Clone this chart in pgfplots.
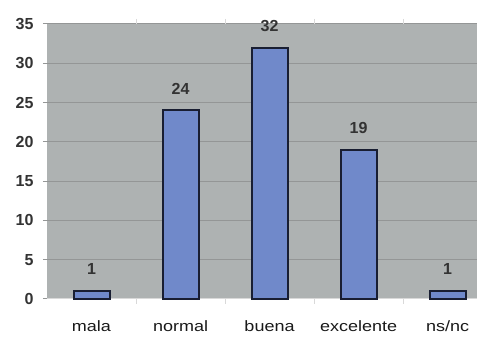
\documentclass[border=0pt]{standalone}
\usepackage{pgfplots}
\pgfplotsset{compat=1.18}
\usepackage{graphicx}
\usepackage{fontspec}
\setmainfont{Liberation Sans}
\newcommand{\hs}[1]{\scalebox{1.2}[1]{#1}}
\definecolor{bgg}{RGB}{174,178,178}
\definecolor{gridg}{RGB}{148,150,150}
\definecolor{barb}{RGB}{112,137,202}
\definecolor{edgeb}{RGB}{25,30,50}
\begin{document}
\begin{tikzpicture}
\begin{axis}[
  at={(47pt,38pt)}, anchor=south west,
  scale only axis, width=430pt, height=275pt,
  xmin=-0.5, xmax=4.331, ymin=0, ymax=35,
  /pgf/number format/assume math mode=true,
  axis background/.style={fill=bgg},
  axis line style={draw=none},
  ytick={0,5,...,35},
  ymajorgrids, major grid style={gridg, line width=1pt},
  ytick style={gridg, line width=1pt},
  tick align=outside, major tick length=4pt,
  yticklabel style={font=\fontsize{16}{19}\selectfont\bfseries, text=black!80, xshift=-6pt},
  xtick={0,1,2,3,4},
  xticklabels={\hs{mala},\hs{normal},\hs{buena},\hs{excelente},\hs{ns/nc}},
  xticklabel style={font=\fontsize{15}{18}\selectfont, text=black!90, yshift=-14pt},
  xtick style={draw=none},
  minor xtick={0.5,1.5,2.5,3.5},
  minor tick length=5pt,
  minor x tick style={draw=white!85!black, line width=0.8pt},
  ybar, bar width=36pt,
  nodes near coords,
  nodes near coords style={font=\fontsize{16}{19}\selectfont\bfseries, text=black!80, anchor=south, yshift=12pt},
  clip=false,
]
\draw[white!85!black, line width=1pt] (axis cs:-0.5,0) -- (axis cs:4.331,0);
\addplot[fill=barb, draw=edgeb, line width=2pt] coordinates {(0,1) (1,24) (2,32) (3,19) (4,1)};
\end{axis}
\pgfresetboundingbox
\path[use as bounding box] (0,0) rectangle (477pt,337pt);
\end{tikzpicture}
\end{document}
